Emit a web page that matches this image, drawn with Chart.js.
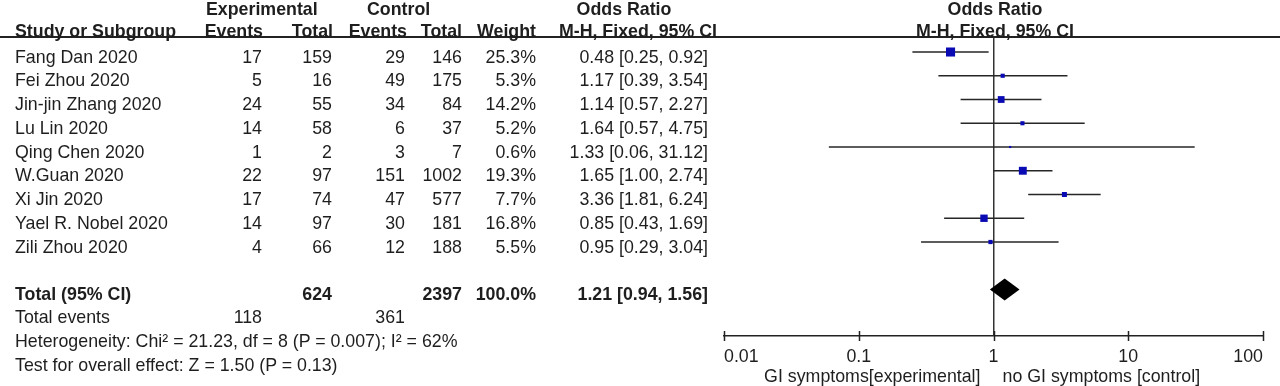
<!DOCTYPE html>
<html>
<head>
<meta charset="utf-8">
<script src="https://cdn.jsdelivr.net/npm/chart.js@4.4.0/dist/chart.umd.min.js"></script>
<style>
    body { margin: 0; background: #fff; }
    #wrap { position: relative; width: 1280px; height: 386px; overflow: hidden; }
    #plot { position: absolute; left: 0; top: 0; }
    .t {
        position: absolute;
        font-family: "Liberation Sans", Arial, sans-serif;
        font-size: 17.8px;
        line-height: 20px;
        color: #1e1e1e;
        white-space: nowrap;
    }
    .b { font-weight: bold; }
    #rule { position: absolute; left: 0; top: 36px; width: 1280px; height: 2px; background: #222; }
</style>
</head>
<body>
<div id="wrap">
    <canvas id="plot" width="1280" height="386"></canvas>
    <div id="rule"></div>
</div>

<script>
const studies = [
    "Fang Dan 2020", "Fei Zhou 2020", "Jin-jin Zhang 2020", "Lu Lin 2020",
    "Qing Chen 2020", "W.Guan 2020", "Xi Jin 2020", "Yael R. Nobel 2020", "Zili Zhou 2020"
];
const expEvents = [17, 5, 24, 14, 1, 22, 17, 14, 4];
const expTotal = [159, 16, 55, 58, 2, 97, 74, 97, 66];
const ctlEvents = [29, 49, 34, 6, 3, 151, 47, 30, 12];
const ctlTotal = [146, 175, 84, 37, 7, 1002, 577, 181, 188];
const weights = [25.3, 5.3, 14.2, 5.2, 0.6, 19.3, 7.7, 16.8, 5.5];
const oddsRatio = [0.48, 1.17, 1.14, 1.64, 1.33, 1.65, 3.36, 0.85, 0.95];
const ciLow = [0.25, 0.39, 0.57, 0.57, 0.06, 1.00, 1.81, 0.43, 0.29];
const ciHigh = [0.92, 3.54, 2.27, 4.75, 31.12, 2.74, 6.24, 1.69, 3.04];

const totalExp = 624;
const totalCtl = 2397;
const totalWeight = 100.0;
const totalEventsExp = 118;
const totalEventsCtl = 361;
const totalOR = 1.21;
const totalLow = 0.94;
const totalHigh = 1.56;

const tickValues = [0.01, 0.1, 1, 10, 100];
const tickLabels = ["0.01", "0.1", "1", "10", "100"];
const favoursLeft = "GI symptoms[experimental]";
const favoursRight = "no GI symptoms [control]";

const totalRow = studies.length + 1;
const FONT = '"Liberation Sans", Arial, sans-serif';

// ---------- table text ----------
const wrap = document.getElementById("wrap");

function put(text, top, opts) {
    const d = document.createElement("div");
    d.className = "t" + (opts.bold ? " b" : "");
    d.textContent = text;
    d.style.top = top + "px";
    if (opts.right !== undefined) {
        d.style.right = (1280 - opts.right) + "px";
    } else if (opts.center !== undefined) {
        d.style.left = opts.center + "px";
        d.style.transform = "translateX(-50%)";
    } else {
        d.style.left = opts.left + "px";
    }
    wrap.appendChild(d);
}

const fmt = v => v.toFixed(2);
const ciText = (o, l, h) => `${fmt(o)} [${fmt(l)}, ${fmt(h)}]`;

// headers
put("Experimental", -1, { left: 206, bold: true });
put("Control", -1, { left: 367, bold: true });
put("Odds Ratio", -1, { center: 624, bold: true });
put("Odds Ratio", -1, { center: 995, bold: true });
put("Study or Subgroup", 21, { left: 15, bold: true });
put("Events", 21, { right: 263, bold: true });
put("Total", 21, { right: 333, bold: true });
put("Events", 21, { right: 407, bold: true });
put("Total", 21, { right: 462, bold: true });
put("Weight", 21, { right: 536, bold: true });
put("M-H, Fixed, 95% CI", 21, { right: 717, bold: true });
put("M-H, Fixed, 95% CI", 21, { center: 995, bold: true });

studies.forEach((name, i) => {
    const top = 46.7 + 23.75 * i;
    put(name, top, { left: 15 });
    put(String(expEvents[i]), top, { right: 262 });
    put(String(expTotal[i]), top, { right: 332 });
    put(String(ctlEvents[i]), top, { right: 405 });
    put(String(ctlTotal[i]), top, { right: 462 });
    put(weights[i].toFixed(1) + "%", top, { right: 536 });
    put(ciText(oddsRatio[i], ciLow[i], ciHigh[i]), top, { right: 708 });
});

const totTop = 46.7 + 23.75 * totalRow;
put("Total (95% CI)", totTop, { left: 15, bold: true });
put(String(totalExp), totTop, { right: 332, bold: true });
put(String(totalCtl), totTop, { right: 462, bold: true });
put(totalWeight.toFixed(1) + "%", totTop, { right: 536, bold: true });
put(ciText(totalOR, totalLow, totalHigh), totTop, { right: 708, bold: true });

put("Total events", 307, { left: 15 });
put(String(totalEventsExp), 307, { right: 262 });
put(String(totalEventsCtl), 307, { right: 405 });
put("Heterogeneity: Chi² = 21.23, df = 8 (P = 0.007); I² = 62%", 331, { left: 15 });
put("Test for overall effect: Z = 1.50 (P = 0.13)", 355, { left: 15 });

// ---------- forest plot ----------
const ciDatasets = studies.map((s, i) => ({
    data: [{ x: ciLow[i], y: i }, { x: ciHigh[i], y: i }],
    showLine: true,
    borderColor: "#262626",
    borderWidth: 1.7,
    pointRadius: 0,
    order: 1
}));

const squares = {
    data: oddsRatio.map((v, i) => ({ x: v, y: i })),
    pointStyle: "rect",
    pointRadius: weights.map(w => Math.max(1.5, 6.4 * Math.sqrt(w / 25.3))),
    backgroundColor: "#0a0ab4",
    borderWidth: 0,
    order: 0
};

const forestExtras = {
    id: "forestExtras",
    afterDatasetsDraw(chart) {
        const ctx = chart.ctx;
        const xs = chart.scales.x;
        const ys = chart.scales.y;
        const yc = ys.getPixelForValue(totalRow);
        ctx.save();
        ctx.fillStyle = "#000";
        ctx.beginPath();
        ctx.moveTo(xs.getPixelForValue(totalLow), yc);
        ctx.lineTo(xs.getPixelForValue(totalOR), yc - 11);
        ctx.lineTo(xs.getPixelForValue(totalHigh), yc);
        ctx.lineTo(xs.getPixelForValue(totalOR), yc + 11);
        ctx.closePath();
        ctx.fill();
        ctx.restore();
    },
    afterDraw(chart) {
        const ctx = chart.ctx;
        const xs = chart.scales.x;
        const yb = chart.chartArea.bottom;
        ctx.save();
        ctx.strokeStyle = "#222";
        ctx.lineWidth = 1.5;
        tickValues.forEach(v => {
            const px = Math.round(xs.getPixelForValue(v)) + 0.5;
            ctx.beginPath();
            ctx.moveTo(px, yb - 5);
            ctx.lineTo(px, yb + 5);
            ctx.stroke();
        });
        const one = xs.getPixelForValue(1);
        ctx.fillStyle = "#1e1e1e";
        ctx.font = "17.8px " + FONT;
        ctx.textBaseline = "alphabetic";
        ctx.textAlign = "right";
        ctx.fillText(favoursLeft, one - 13, 382);
        ctx.textAlign = "left";
        ctx.fillText(favoursRight, one + 9, 382);
        ctx.restore();
    }
};

new Chart(
    document.getElementById("plot"),
    {
        type: "scatter",

        data: {
            datasets: [squares, ...ciDatasets]
        },

        options: {
            responsive: false,
            animation: false,
            events: [],

            layout: {
                padding: { left: 724, right: 17, top: 37, bottom: 0 }
            },

            plugins: {
                legend: { display: false },
                tooltip: { enabled: false }
            },

            scales: {
                x: {
                    type: "logarithmic",
                    min: 0.01,
                    max: 100,
                    afterBuildTicks: scale => {
                        scale.ticks = tickValues.map(v => ({ value: v }));
                    },
                    afterFit: scale => {
                        scale.height = 50;
                    },
                    border: { display: true, color: "#222", width: 1.5 },
                    grid: {
                        drawTicks: false,
                        lineWidth: 1.5,
                        color: c => (c.tick && c.tick.value === 1 ? "#333" : "rgba(0,0,0,0)")
                    },
                    ticks: {
                        align: "inner",
                        padding: 10,
                        color: "#1e1e1e",
                        font: { family: FONT, size: 17.8 },
                        callback: (v, i) => tickLabels[i]
                    }
                },
                y: {
                    type: "linear",
                    display: false,
                    reverse: true,
                    min: -0.632,
                    max: 11.958
                }
            }
        },

        plugins: [forestExtras]
    }
);
</script>
</body>
</html>
